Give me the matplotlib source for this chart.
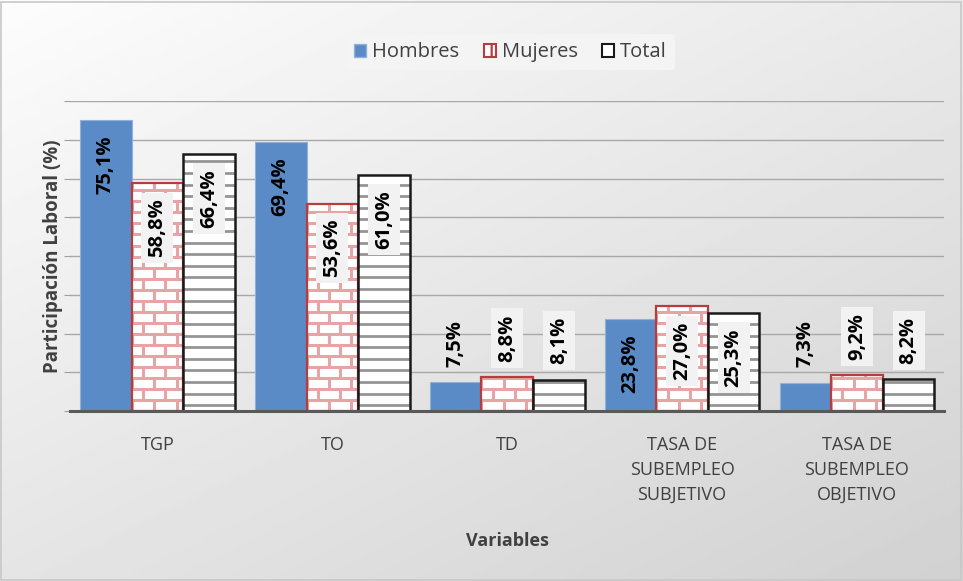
import numpy as np
import matplotlib.pyplot as plt
from matplotlib.collections import LineCollection

plt.rcParams['font.family'] = ['Open Sans', 'DejaVu Sans']
plt.rcParams['hatch.linewidth'] = 1.6

categories = ["TGP", "TO", "TD", "TASA DE\nSUBEMPLEO\nSUBJETIVO", "TASA DE\nSUBEMPLEO\nOBJETIVO"]
hombres = [75.1, 69.4, 7.5, 23.8, 7.3]
mujeres = [58.8, 53.6, 8.8, 27.0, 9.2]
total = [66.4, 61.0, 8.1, 25.3, 8.2]
labels_h = ["75,1%", "69,4%", "7,5%", "23,8%", "7,3%"]
labels_m = ["58,8%", "53,6%", "8,8%", "27,0%", "9,2%"]
labels_t = ["66,4%", "61,0%", "8,1%", "25,3%", "8,2%"]

fig = plt.figure(figsize=(9.63, 5.81), dpi=100)

# gradient background over the whole figure
bg = fig.add_axes([0, 0, 1, 1])
yy, xx = np.mgrid[0:1:200j, 0:1:300j]
grad = 0.99 - 0.17 * (0.45 * xx + 0.55 * yy)
bg.imshow(grad, cmap='gray', vmin=0, vmax=1, aspect='auto', extent=[0, 1, 0, 1], origin='upper')
bg.set_xlim(0, 1)
bg.set_ylim(0, 1)
bg.axis('off')
bg.add_patch(plt.Rectangle((0.001, 0.002), 0.997, 0.995, fill=False, ec='#c8c8c8', lw=1.2,
                           transform=bg.transAxes))

ax = fig.add_axes([0.0727, 0.2926, 0.908, 0.533])
ax.patch.set_alpha(0)

x = np.arange(len(categories))
w = 0.295

ax.bar(x - w, hombres, w, color='#5b8bc6', edgecolor='#8fb2dc', lw=0.8, zorder=3)
bars_m = ax.bar(x, mujeres, w, color='white', lw=0, zorder=3)
bars_t = ax.bar(x + w, total, w, color='white', lw=0, zorder=3)

# brick pattern for Mujeres, stripes for Total (clipped to each bar)
row = 2.85      # brick row height, % units
brick = w / 2.3  # brick length
for b in bars_m:
    x0, x1, top = b.get_x(), b.get_x() + b.get_width(), b.get_height()
    segs = []
    k = 0
    yv = 0.0
    while yv < top:
        segs.append([(x0, yv), (x1, yv)])
        off = 0 if k % 2 == 0 else brick / 2
        xv = x0 + off
        while xv < x1:
            segs.append([(xv, yv), (xv, yv + row)])
            xv += brick
        yv += row
        k += 1
    lc = LineCollection(segs, colors='#e8a4a4', lw=2.2, zorder=3.5)
    ax.add_collection(lc)
    lc.set_clip_path(b)
for b in bars_t:
    x0, x1, top = b.get_x(), b.get_x() + b.get_width(), b.get_height()
    segs = [[(x0, yv), (x1, yv)] for yv in np.arange(1.5, top, 3.0)]
    lc = LineCollection(segs, colors='#959595', lw=2.0, zorder=3.5)
    ax.add_collection(lc)
    lc.set_clip_path(b)

ax.bar(x, mujeres, w, fill=False, edgecolor='#b83c3c', lw=1.6, zorder=4)
ax.bar(x + w, total, w, fill=False, edgecolor='#1a1a1a', lw=1.8, zorder=4)

box = dict(boxstyle='square,pad=0.3', fc='#f2f2f2', ec='none')
for i in range(len(categories)):
    for dx, v, lab, b in [(-w, hombres[i], labels_h[i], None),
                          (0, mujeres[i], labels_m[i], box),
                          (w, total[i], labels_t[i], box)]:
        if v > 20:
            ax.annotate(lab, (x[i] + dx, v), xytext=(0, -11), textcoords='offset points',
                        rotation=90, ha='center', va='top', fontsize=14.5, fontweight='bold',
                        bbox=b, zorder=5)
        else:
            ax.annotate(lab, (x[i] + dx, v), xytext=(0, 11), textcoords='offset points',
                        rotation=90, ha='center', va='bottom', fontsize=14.5, fontweight='bold',
                        bbox=b, zorder=5)

ax.set_xlim(-0.5, len(categories) - 0.5)
ax.set_ylim(0, 80)
ax.set_yticks(np.arange(0, 81, 10))
ax.set_yticklabels([])
ax.tick_params(axis='y', length=4, color='#a0a0a0')
ax.grid(axis='y', color='#a8a8a8', lw=1, zorder=0)
ax.set_axisbelow(True)
for s in ['top', 'right', 'left']:
    ax.spines[s].set_visible(False)
ax.spines['bottom'].set_color('#595959')
ax.spines['bottom'].set_linewidth(2.2)
ax.spines['bottom'].set_zorder(6)

ax.set_xticks(x)
ax.set_xticklabels(categories, fontsize=13, color='#404040', linespacing=1.5)
ax.tick_params(axis='x', length=0, pad=18)
ax.set_xlabel("Variables", fontsize=13, fontweight='bold', color='#404040', labelpad=20)
ax.set_ylabel("Participación Laboral (%)", fontsize=13.5, fontweight='bold', color='#404040')
ax.yaxis.set_label_coords(-0.008, 0.5)

handles = [plt.Rectangle((0, 0), 1, 1, fc='#5b8bc6', ec='#8fb2dc'),
           plt.Rectangle((0, 0), 1, 1, fc='white', ec='#b83c3c', hatch='+', lw=1.5),
           plt.Rectangle((0, 0), 1, 1, fc='white', ec='#1a1a1a', hatch='-', lw=1.5)]
leg = fig.legend(handles, ["Hombres", "Mujeres", "Total"], loc='center', bbox_to_anchor=(0.53, 0.91),
                 ncol=3, frameon=True, fontsize=14.5, handlelength=0.6, handleheight=0.6,
                 handletextpad=0.3, columnspacing=1.2, borderpad=0.4)
leg.get_frame().set_facecolor('#f4f4f4')
leg.get_frame().set_edgecolor('none')
leg.get_frame().set_alpha(1)
for t in leg.get_texts():
    t.set_color('#404040')

fig.savefig("out.png", dpi=100)
